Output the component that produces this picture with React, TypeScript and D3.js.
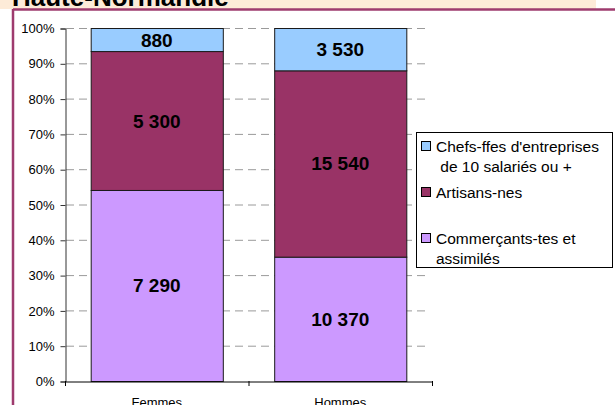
import React, { useEffect, useRef } from "react";
import * as d3 from "d3";

const categories = ["Femmes", "Hommes"];
const seriesNames = ["Commerçants-tes et assimilés", "Artisans-nes", "Chefs-ffes d'entreprises de 10 salariés ou +"];
const commercants = [7290, 10370];
const artisans = [5300, 15540];
const chefs = [880, 3530];
const yTicks = [0, 0.1, 0.2, 0.3, 0.4, 0.5, 0.6, 0.7, 0.8, 0.9, 1];
const legendLines = [
  ["Chefs-ffes d'entreprises", " de 10 salariés ou +"],
  ["Artisans-nes"],
  ["Commerçants-tes et", "assimilés"],
];

const colors = ["#CC99FF", "#993366", "#99CCFF"];
const FONT = "'Liberation Sans', Arial, sans-serif";

export default function App() {
  const ref = useRef<HTMLDivElement>(null);

  useEffect(() => {
    const container = d3.select(ref.current);
    container.selectAll("*").remove();

    const width = 615;
    const height = 405;
    const svg = container.append("svg").attr("width", width).attr("height", height)
      .style("display", "block").style("font-family", FONT);

    // frame + title band
    svg.append("rect").attr("x", 0).attr("y", 0).attr("width", 596).attr("height", 9).attr("fill", "#FDEBD8");
    svg.append("text").text("Haute-Normandie").attr("x", 12).attr("y", 6)
      .attr("font-size", 26).attr("font-weight", "bold").attr("fill", "#000");
    svg.append("line").attr("x1", 13).attr("x2", 615).attr("y1", 9.5).attr("y2", 9.5)
      .attr("stroke", "#9E3B6E").attr("stroke-width", 2.5);
    svg.append("line").attr("x1", 13).attr("x2", 13).attr("y1", 9).attr("y2", height)
      .attr("stroke", "#9E3B6E").attr("stroke-width", 2.5);

    const rows = categories.map((c, i) => {
      const total = commercants[i] + artisans[i] + chefs[i];
      return { cat: c, vals: [commercants[i], artisans[i], chefs[i]], total,
        s0: commercants[i] / total, s1: artisans[i] / total, s2: chefs[i] / total };
    });

    const stack = d3.stack<any>().keys(["s0", "s1", "s2"]);
    const series = stack(rows);

    const x = d3.scaleBand().domain(categories).range([65, 432]).padding(0);
    const barW = x.bandwidth() * 0.72;
    const y = d3.scaleLinear().domain([0, 1]).range([381, 28]);

    // gridlines
    svg.append("g").selectAll("line").data(yTicks.filter((t) => t > 0)).join("line")
      .attr("x1", 66).attr("x2", 430)
      .attr("y1", (d) => y(d) + 0.5).attr("y2", (d) => y(d) + 0.5)
      .attr("stroke", "#9a9a9a").attr("stroke-dasharray", "8,5");

    // bars
    const fmt = d3.formatLocale({ decimal: ",", thousands: " ", grouping: [3], currency: ["", "€"] }).format(",");
    series.forEach((s, k) => {
      svg.append("g").selectAll("rect").data(s).join("rect")
        .attr("x", (d: any) => x(d.data.cat)! + (x.bandwidth() - barW) / 2 + 0.5)
        .attr("y", (d) => y(d[1]) + 0.5)
        .attr("width", barW)
        .attr("height", (d) => y(d[0]) - y(d[1]))
        .attr("fill", colors[k])
        .attr("stroke", "#1a1a1a").attr("stroke-width", 1);
    });
    series.forEach((s, k) => {
      svg.append("g").selectAll("text").data(s).join("text")
        .text((d: any) => fmt(d.data.vals[k]))
        .attr("x", (d: any) => x(d.data.cat)! + x.bandwidth() / 2)
        .attr("y", (d) => (y(d[0]) + y(d[1])) / 2 + 7)
        .attr("text-anchor", "middle")
        .attr("font-size", 19).attr("font-weight", "bold").attr("fill", "#000");
    });

    // y axis
    const yAxis = svg.append("g").attr("transform", "translate(65.5,0.5)")
      .call(d3.axisLeft(y).tickValues(yTicks).tickFormat(d3.format(".0%")).tickSize(5).tickPadding(6));
    yAxis.select(".domain").attr("stroke", "#333");
    yAxis.selectAll(".tick line").attr("stroke", "#333");
    yAxis.selectAll("text").attr("font-size", 13).attr("font-family", FONT).attr("fill", "#000");

    // x axis
    const xAxis = svg.append("g").attr("transform", "translate(0,381.5)")
      .call(d3.axisBottom(x).tickSize(0).tickPadding(0).tickSizeOuter(0));
    xAxis.select(".domain").attr("stroke", "#000");
    xAxis.selectAll(".tick text").attr("font-size", 13).attr("font-family", FONT).attr("fill", "#000")
      .attr("dy", 0).attr("y", 25);
    svg.append("g").selectAll("line").data([65, x("Hommes")!, 432]).join("line")
      .attr("x1", (d) => d + 0.5).attr("x2", (d) => d + 0.5).attr("y1", 381).attr("y2", 386)
      .attr("stroke", "#000");

    // legend
    const lg = svg.append("g");
    lg.append("rect").attr("x", 416.5).attr("y", 132.5).attr("width", 196).attr("height", 135)
      .attr("fill", "#fff").attr("stroke", "#000");
    const itemY = [146, 192, 238];
    const legendColors = [colors[2], colors[1], colors[0]];
    legendLines.forEach((lines, i) => {
      lg.append("rect").attr("x", 421.5).attr("y", itemY[i] - 4.5).attr("width", 9).attr("height", 9)
        .attr("fill", legendColors[i]).attr("stroke", "#000");
      lines.forEach((ln, j) => {
        lg.append("text").text(ln).attr("x", 436).attr("y", itemY[i] + 6 + j * 19.5)
          .attr("font-size", 15.5).attr("fill", "#000").attr("xml:space", "preserve")
          .style("white-space", "pre");
      });
    });
    lg.attr("aria-label", seriesNames.join(", "));
  }, []);

  return <div ref={ref} style={{ position: "absolute", left: 0, top: 0, width: 615, height: 405 }}></div>;
}
